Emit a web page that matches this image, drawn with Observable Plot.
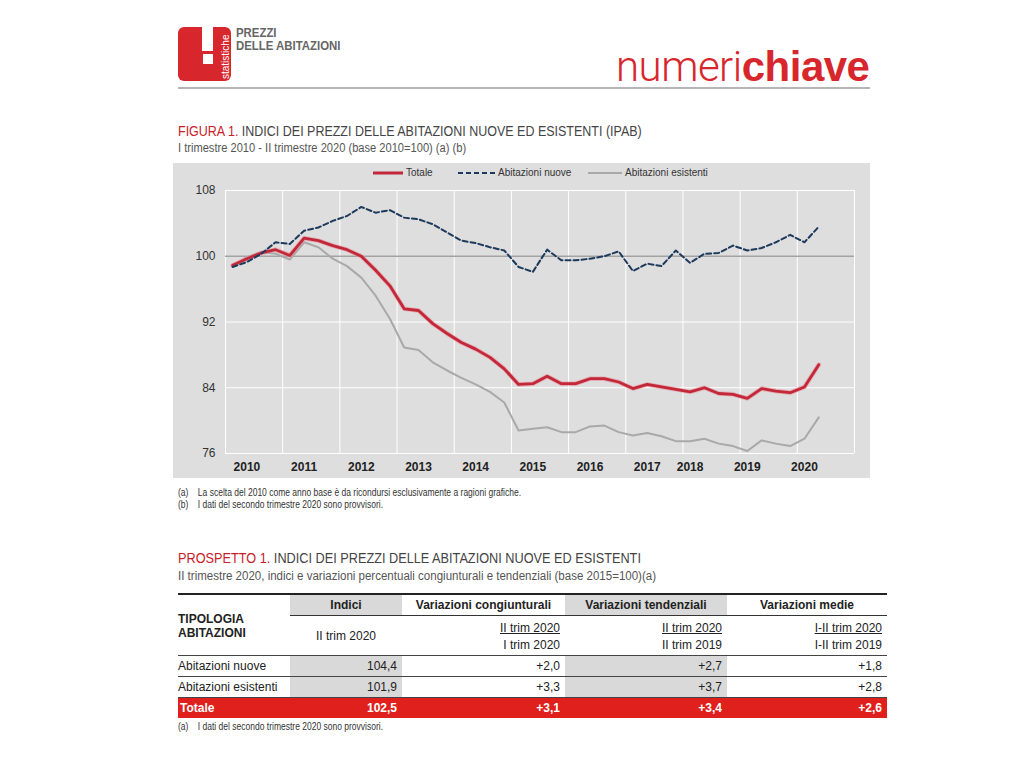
<!DOCTYPE html>
<html><head><meta charset="utf-8">
<script src="https://cdn.jsdelivr.net/npm/d3@7"></script>
<script src="https://cdn.jsdelivr.net/npm/@observablehq/plot@0.6"></script>
<style>
body{margin:0;background:#fff;font-family:"Liberation Sans",Arial,sans-serif;}
#page{position:relative;width:1024px;height:768px;overflow:hidden;}
.abs{position:absolute;white-space:nowrap;transform-origin:0 0;}
#chartbox{position:absolute;left:173px;top:163px;width:697px;height:315px;background:#dedede;}
#legend{position:absolute;left:0;top:4px;width:697px;height:16px;font-size:10px;color:#333;}
table.t{position:absolute;left:178px;top:593px;width:709px;border-collapse:collapse;font-size:12px;color:#222;table-layout:fixed;}
table.t td{padding:0 5px;height:20px;}
</style></head>
<body><div id="page">
<svg class="abs" style="left:178px;top:27px" width="54" height="55" viewBox="0 0 54 55">
  <rect x="0" y="0" width="53" height="54" rx="6" fill="#d8262d"/>
  <rect x="24" y="0" width="11" height="24" fill="#fff"/>
  <rect x="25" y="27" width="10" height="10" fill="#fff"/>
  <text transform="translate(51,52) rotate(-90)" font-size="10" fill="#fff" font-family="Liberation Sans, Arial">statistiche</text>
</svg>
<div class="abs" style="left:236px;top:27px;font-size:12px;line-height:13px;color:#666;font-weight:bold;transform:scaleX(0.95)">PREZZI<br>DELLE ABITAZIONI</div>
<div class="abs" style="left:616px;top:43px;font-size:42px;line-height:48px;color:#d8262d;letter-spacing:-0.5px"><span style="font-family:Roboto;font-weight:300">numeri</span><span style="font-family:'Liberation Sans',Arial;font-weight:bold">chiave</span></div>
<div class="abs" style="left:178px;top:87px;width:692px;height:2px;background:#b5b5b5"></div>

<div class="abs" style="left:178px;top:123px;font-size:14px;color:#444;transform:scaleX(0.892)"><span style="color:#c8202a">FIGURA 1.</span> INDICI DEI PREZZI DELLE ABITAZIONI NUOVE ED ESISTENTI (IPAB)</div>
<div class="abs" style="left:178px;top:141px;font-size:12px;color:#555;transform:scaleX(0.926)">I trimestre 2010 - II trimestre 2020 (base 2010=100) (a) (b)</div>

<div id="chartbox"><div id="chart"></div><div id="legend"></div></div>

<div class="abs" style="left:178px;top:487px;font-size:10px;line-height:12px;color:#333;transform:scaleX(0.85)">(a)&nbsp;&nbsp;&nbsp; La scelta del 2010 come anno base è da ricondursi esclusivamente a ragioni grafiche.<br>(b)&nbsp;&nbsp;&nbsp; I dati del secondo trimestre 2020 sono provvisori.</div>

<div class="abs" style="left:178px;top:550px;font-size:14px;color:#444;transform:scaleX(0.908)"><span style="color:#c8202a">PROSPETTO 1.</span> INDICI DEI PREZZI DELLE ABITAZIONI NUOVE ED ESISTENTI</div>
<div class="abs" style="left:178px;top:569px;font-size:12px;color:#555;transform:scaleX(0.96)">II trimestre 2020, indici e variazioni percentuali congiunturali e tendenziali (base 2015=100)(a)</div>
<div id="tablewrap"></div>
<div class="abs" style="left:178px;top:721px;font-size:10px;color:#333;transform:scaleX(0.85)">(a)&nbsp;&nbsp;&nbsp; I dati del secondo trimestre 2020 sono provvisori.</div>
</div>
<script>
// ---- chart data (quarterly, I trim 2010 .. II trim 2020) ----
const quarterIndex = [0,1,2,3,4,5,6,7,8,9,10,11,12,13,14,15,16,17,18,19,20,21,22,23,24,25,26,27,28,29,30,31,32,33,34,35,36,37,38,39,40,41];
const totale = [98.9,99.7,100.4,100.8,100.1,102.2,101.9,101.3,100.8,100.0,98.3,96.4,93.6,93.4,91.8,90.6,89.5,88.7,87.7,86.3,84.4,84.5,85.4,84.5,84.5,85.1,85.1,84.7,83.9,84.4,84.1,83.8,83.5,84.0,83.3,83.2,82.7,83.9,83.6,83.4,84.1,86.8];
const nuove = [98.7,99.3,100.3,101.7,101.5,103.1,103.5,104.3,104.9,106.0,105.3,105.6,104.7,104.5,103.9,102.9,101.9,101.6,101.1,100.7,98.7,98.1,100.8,99.5,99.5,99.7,100.0,100.6,98.2,99.1,98.8,100.7,99.2,100.3,100.4,101.3,100.7,101.0,101.7,102.6,101.7,103.6];
const esistenti = [98.8,99.9,100.5,100.3,99.6,101.7,101.1,99.7,98.8,97.4,95.2,92.4,88.9,88.6,87.1,86.1,85.2,84.4,83.5,82.2,78.8,79.0,79.2,78.6,78.6,79.3,79.4,78.6,78.2,78.5,78.1,77.5,77.5,77.8,77.2,76.9,76.3,77.6,77.2,76.9,77.8,80.4];
const yearLabels = ["2010","2011","2012","2013","2014","2015","2016","2017","2018","2019","2020"];
const yearLabelAt = [1,5,9,13,17,21,25,29,32,36,40];
const yearBoundaries = [-0.5,3.5,7.5,11.5,15.5,19.5,23.5,27.5,31.5,35.5,39.5,43.5];
const yTicks = [76,84,92,100,108];
const baseLine = [100];
const seriesNames = ["Totale","Abitazioni nuove","Abitazioni esistenti"];

// ---- table data ----
const rowNames = ["Abitazioni nuove","Abitazioni esistenti","Totale"];
const indici = ["104,4","101,9","102,5"];
const varCong = ["+2,0","+3,3","+3,1"];
const varTend = ["+2,7","+3,7","+3,4"];
const varMedie = ["+1,8","+2,8","+2,6"];
const colHeads = ["Indici","Variazioni congiunturali","Variazioni tendenziali","Variazioni medie"];
const subTop = ["II trim 2020","II trim 2020","I-II trim 2020"];
const subBottom = ["I trim 2020","II trim 2019","I-II trim 2019"];

const rows = (vals) => quarterIndex.map((q,i)=>({q, v: vals[i]}));
const colors = {tot:"#c3283a", nuove:"#1d3a5c", esist:"#a9a9a9"};

const plot = Plot.plot({
  width: 697, height: 315,
  marginLeft: 52, marginRight: 16, marginTop: 27, marginBottom: 25,
  style: {background: "transparent", fontFamily: "'Liberation Sans',Arial,sans-serif", color: "#333"},
  x: {domain: [-0.5, 43.5], axis: null},
  y: {domain: [76, 108], axis: null},
  marks: [
    Plot.ruleX(yearBoundaries, {stroke: "#fff", strokeWidth: 1}),
    Plot.ruleY(yTicks.filter(d=>d!==100), {stroke: "#fff", strokeWidth: 1}),
    Plot.ruleY(baseLine, {stroke: "#a3a3a3", strokeWidth: 1.5}),
    Plot.axisY(yTicks, {tickSize: 0, tickPadding: 10, fontSize: 12, label: null, fill: "#333"}),
    Plot.axisX(yearLabelAt, {tickSize: 0, tickPadding: 9, fontSize: 12, fontWeight: "bold", label: null, fill: "#222", tickFormat: (d)=>yearLabels[yearLabelAt.indexOf(d)]}),
    Plot.line(rows(esistenti), {x: "q", y: "v", stroke: colors.esist, strokeWidth: 2}),
    Plot.line(rows(totale), {x: "q", y: "v", stroke: "#e88a93", strokeWidth: 4.5, strokeOpacity: 0.6}),
    Plot.line(rows(totale), {x: "q", y: "v", stroke: colors.tot, strokeWidth: 2.8}),
    Plot.line(rows(nuove), {x: "q", y: "v", stroke: colors.nuove, strokeWidth: 2, strokeDasharray: "5,3"})
  ]
});
document.getElementById("chart").appendChild(plot);

// legend (HTML)
const lg = document.getElementById("legend");
const legendItems = [
  {name: seriesNames[0], x: 200, w: 30, stroke: colors.tot, sw: 3, dash: null},
  {name: seriesNames[1], x: 285, w: 37, stroke: colors.nuove, sw: 2, dash: "5,3"},
  {name: seriesNames[2], x: 415, w: 34, stroke: colors.esist, sw: 2, dash: null}
];
legendItems.forEach(it=>{
  const d = document.createElement("div");
  d.style.cssText = `position:absolute;left:${it.x}px;top:0;display:flex;align-items:center;gap:3px;white-space:nowrap`;
  d.innerHTML = `<svg width="${it.w}" height="10"><line x1="0" x2="${it.w}" y1="5" y2="5" stroke="${it.stroke}" stroke-width="${it.sw}" ${it.dash?`stroke-dasharray="${it.dash}"`:""}/></svg><span>${it.name}</span>`;
  lg.appendChild(d);
});

// table
const G = "#d9d9d9";
let h = `<table class="t"><colgroup><col style="width:112px"><col style="width:112px"><col style="width:163px"><col style="width:162px"><col style="width:160px"></colgroup>`;
h += `<tr style="border-top:2px solid #222"><td rowspan="3" style="font-weight:bold;vertical-align:middle;padding-left:0;line-height:14px;padding-top:2px">TIPOLOGIA<br>ABITAZIONI</td>`;
colHeads.forEach((c,i)=>{ h += `<td style="text-align:center;font-weight:bold;height:20px;border-bottom:1px solid #333;${i%2===0?`background:${G}`:""}">${c}</td>`; });
h += `</tr><tr><td rowspan="2" style="text-align:center;vertical-align:middle">${subTop[0]}</td>`;
subTop.forEach(s=>{ h += `<td style="text-align:right;height:19px;vertical-align:bottom"><span style="text-decoration:underline">${s}</span></td>`; });
h += `</tr><tr>`;
subBottom.forEach(s=>{ h += `<td style="text-align:right;height:20px">${s}</td>`; });
h += `</tr>`;
rowNames.forEach((r,i)=>{
  const tot = i===2;
  const bg = (j)=> tot ? "" : (j===1||j===3 ? `background:${G};` : "");
  const st = tot ? "background:#e0201c;color:#fff;font-weight:bold;" : "";
  h += `<tr style="${st}border-top:1px solid #444">`;
  h += `<td style="padding-left:0;${tot?'padding-left:2px':''}">${r}</td>`;
  [indici[i],varCong[i],varTend[i],varMedie[i]].forEach((v,j)=>{ h += `<td style="text-align:right;${bg(j+1)}">${v}</td>`; });
  h += `</tr>`;
});
h += `</table>`;
document.getElementById("tablewrap").innerHTML = h;
</script>
</body></html>
